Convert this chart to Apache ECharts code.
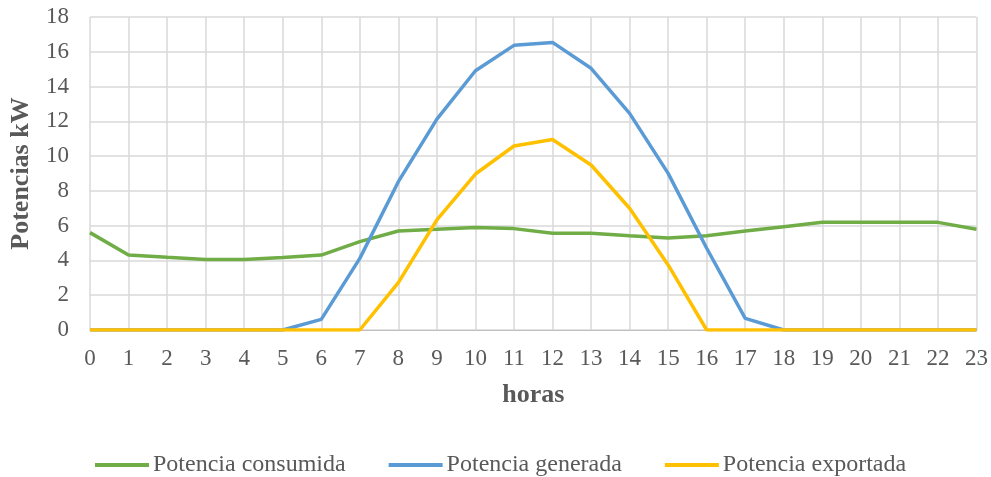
<!DOCTYPE html>
<html>
<head>
<meta charset="utf-8">
<script src="https://cdn.jsdelivr.net/npm/echarts@6/dist/echarts.min.js"></script>
<style>
  html, body { margin: 0; padding: 0; background: #ffffff; }
  #chart { width: 991px; height: 477px; }
</style>
</head>
<body>
<div id="chart"></div>
<script>
// Hourly power profile (kW) over one day
const horas = ['0','1','2','3','4','5','6','7','8','9','10','11','12','13','14','15','16','17','18','19','20','21','22','23'];

const potenciaConsumida = [5.6, 4.31, 4.18, 4.06, 4.06, 4.17, 4.31, 5.08, 5.69, 5.79, 5.9, 5.83, 5.56, 5.56, 5.42, 5.29, 5.42, 5.69, 5.94, 6.19, 6.19, 6.19, 6.19, 5.79];
const potenciaGenerada  = [0, 0, 0, 0, 0, 0, 0.61, 4.12, 8.53, 12.13, 14.91, 16.37, 16.54, 15.05, 12.46, 9.01, 4.7, 0.67, 0, 0, 0, 0, 0, 0];
const potenciaExportada = [0, 0, 0, 0, 0, 0, 0, 0, 2.72, 6.33, 8.97, 10.58, 10.96, 9.49, 7.0, 3.74, 0, 0, 0, 0, 0, 0, 0, 0];

const textColor = '#595959';
const fontFamily = '"Liberation Serif", "Times New Roman", serif';

const chart = echarts.init(document.getElementById('chart'), null, { renderer: 'canvas' });

function lineSeries(name, data, color) {
  return {
    name: name,
    type: 'line',
    data: data,
    showSymbol: false,
    symbol: 'none',
    lineStyle: { color: color, width: 3.5 },
    itemStyle: { color: color }
  };
}

chart.setOption({
  animation: false,
  textStyle: { fontFamily: fontFamily },
  grid: { left: 89, right: 13, top: 17, bottom: 147 },
  legend: {
    top: 448,
    left: 90,
    icon: 'rect',
    itemWidth: 54,
    itemHeight: 4,
    itemGap: 43,
    textStyle: { color: textColor, fontSize: 24, fontFamily: fontFamily, padding: [0, 0, 0, -1] },
    data: ['Potencia consumida', 'Potencia generada', 'Potencia exportada']
  },
  xAxis: {
    type: 'category',
    data: horas,
    boundaryGap: false,
    name: 'horas',
    nameLocation: 'middle',
    nameGap: 52,
    nameTextStyle: { color: textColor, fontSize: 26, fontWeight: 'bold', fontFamily: fontFamily },
    axisLine: { show: true, lineStyle: { color: '#bfbfbf', width: 1 } },
    axisTick: { show: false },
    axisLabel: { color: textColor, fontSize: 23, margin: 17, fontFamily: fontFamily },
    splitLine: { show: true, lineStyle: { color: '#d9d9d9', width: 1.5 } }
  },
  yAxis: {
    type: 'value',
    min: 0,
    max: 18,
    interval: 2,
    name: 'Potencias kW',
    nameLocation: 'middle',
    nameGap: 56,
    nameRotate: 90,
    nameTextStyle: { color: textColor, fontSize: 26, fontWeight: 'bold', fontFamily: fontFamily },
    axisLine: { show: false },
    axisTick: { show: false },
    axisLabel: { color: textColor, fontSize: 23, margin: 21, fontFamily: fontFamily },
    splitLine: { show: true, lineStyle: { color: '#d9d9d9', width: 1.5 } }
  },
  series: [
    lineSeries('Potencia consumida', potenciaConsumida, '#70ad47'),
    lineSeries('Potencia generada', potenciaGenerada, '#5b9bd5'),
    lineSeries('Potencia exportada', potenciaExportada, '#ffc000')
  ]
});
</script>
</body>
</html>
